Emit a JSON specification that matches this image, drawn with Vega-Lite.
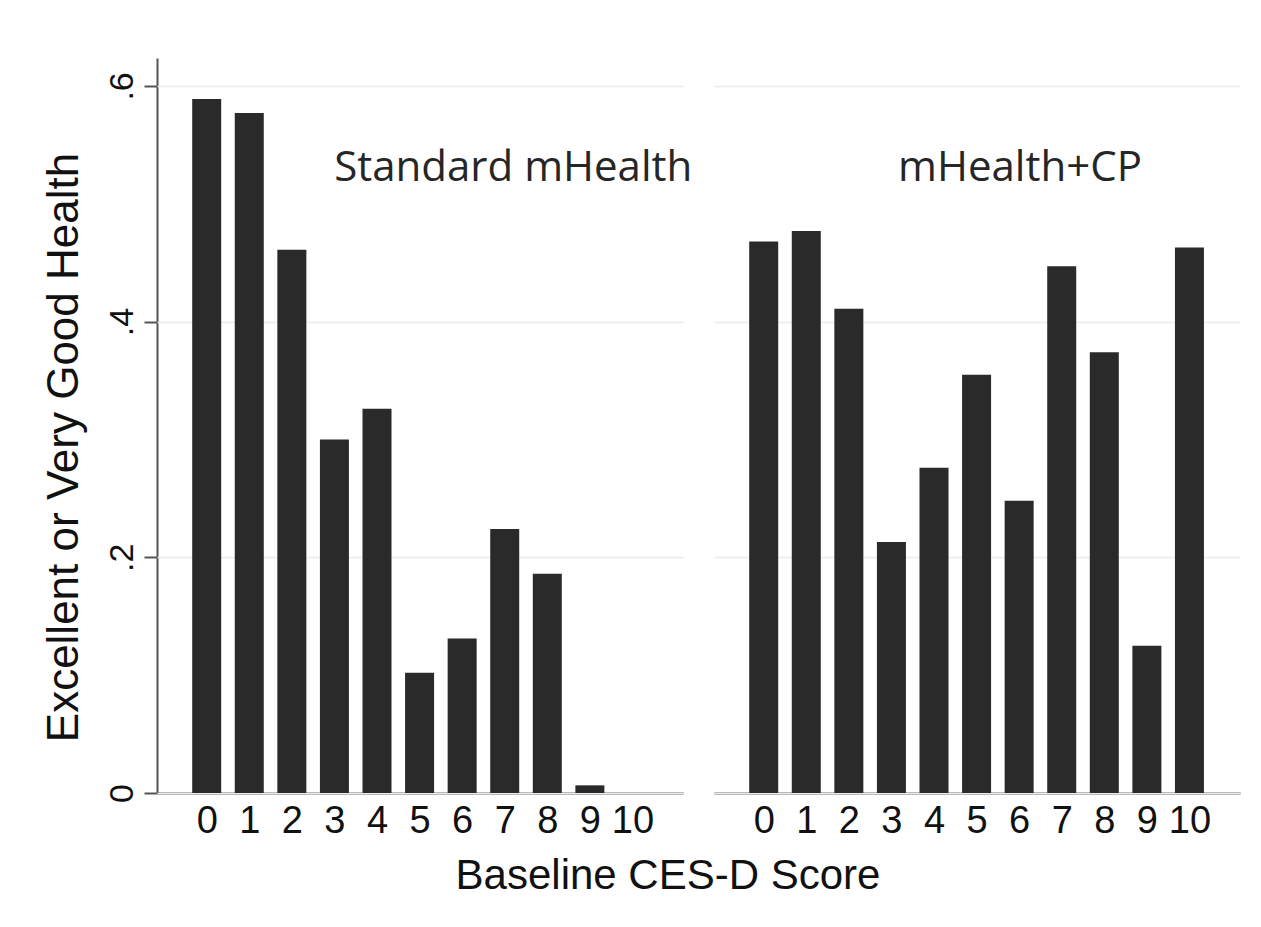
{
  "$schema": "https://vega.github.io/schema/vega-lite/v6.json",
  "autosize": {"type": "pad"},
  "padding": {"left": 42, "top": 58, "right": 5, "bottom": 5},
  "background": "white",
  "data": {
    "values": [
      {"panel": "Standard mHealth", "score": 0, "share": 0.589},
      {"panel": "Standard mHealth", "score": 1, "share": 0.577},
      {"panel": "Standard mHealth", "score": 2, "share": 0.461},
      {"panel": "Standard mHealth", "score": 3, "share": 0.300},
      {"panel": "Standard mHealth", "score": 4, "share": 0.326},
      {"panel": "Standard mHealth", "score": 5, "share": 0.102},
      {"panel": "Standard mHealth", "score": 6, "share": 0.131},
      {"panel": "Standard mHealth", "score": 7, "share": 0.224},
      {"panel": "Standard mHealth", "score": 8, "share": 0.186},
      {"panel": "Standard mHealth", "score": 9, "share": 0.0065},
      {"panel": "Standard mHealth", "score": 10, "share": 0},
      {"panel": "mHealth+CP", "score": 0, "share": 0.468},
      {"panel": "mHealth+CP", "score": 1, "share": 0.477},
      {"panel": "mHealth+CP", "score": 2, "share": 0.411},
      {"panel": "mHealth+CP", "score": 3, "share": 0.213},
      {"panel": "mHealth+CP", "score": 4, "share": 0.276},
      {"panel": "mHealth+CP", "score": 5, "share": 0.355},
      {"panel": "mHealth+CP", "score": 6, "share": 0.248},
      {"panel": "mHealth+CP", "score": 7, "share": 0.447},
      {"panel": "mHealth+CP", "score": 8, "share": 0.374},
      {"panel": "mHealth+CP", "score": 9, "share": 0.125},
      {"panel": "mHealth+CP", "score": 10, "share": 0.463}
    ]
  },
  "facet": {
    "column": {
      "field": "panel",
      "type": "nominal",
      "title": null,
      "sort": ["Standard mHealth", "mHealth+CP"],
      "header": {"labels": false}
    }
  },
  "spacing": 21,
  "title": {
    "text": "Baseline CES-D Score",
    "orient": "bottom",
    "anchor": "middle",
    "frame": "bounds",
    "font": "Liberation Sans",
    "fontSize": 42,
    "fontWeight": "normal",
    "color": "#111111",
    "offset": 16,
    "dx": 27
  },
  "spec": {
    "width": 526,
    "height": 735,
    "layer": [
      {
        "mark": {"type": "bar", "width": 29, "color": "#2a2a2a"},
        "encoding": {
          "x": {
            "field": "score",
            "type": "quantitative",
            "scale": {"domain": [-1.05, 11.07], "nice": false, "zero": false},
            "axis": {
              "title": null,
              "values": [0, 1, 2, 3, 4, 5, 6, 7, 8, 9, 10],
              "ticks": false,
              "tickSize": 0,
              "grid": false,
              "labelFlush": false,
              "labelOverlap": false,
              "labelPadding": 9,
              "labelFontSize": 38,
              "labelFont": "Liberation Sans",
              "labelColor": "#111111",
              "domainColor": "#555555",
              "domainWidth": 2
            }
          },
          "y": {
            "field": "share",
            "type": "quantitative",
            "scale": {"domain": [0, 0.6237], "nice": false},
            "axis": {
              "title": "Excellent or Very Good Health",
              "values": [0, 0.2, 0.4, 0.6],
              "labelExpr": "datum.value == 0 ? '0' : replace(format(datum.value, '.1f'), '0.', '.')",
              "labelAngle": -90,
              "labelAlign": "center",
              "labelBaseline": "alphabetic",
              "labelPadding": 12,
              "labelFontSize": 34,
              "labelFont": "Liberation Sans",
              "labelColor": "#111111",
              "tickSize": 13,
              "tickWidth": 2,
              "tickColor": "#555555",
              "domainColor": "#555555",
              "domainWidth": 2,
              "grid": true,
              "gridColor": "#e8eeef",
              "gridWidth": 1.5,
              "titleFont": "Liberation Sans",
              "titleFontSize": 44,
              "titleFontWeight": "normal",
              "titleColor": "#111111",
              "titleAngle": -90,
              "titleAlign": "center",
              "titleBaseline": "alphabetic",
              "titleX": -80,
              "titleY": 389
            }
          }
        }
      },
      {
        "transform": [{"filter": "datum.score == 0 && datum.panel == 'Standard mHealth'"}],
        "mark": {"type": "text", "font": "Open Sans", "fontSize": 42, "color": "#262626", "align": "center", "baseline": "alphabetic"},
        "encoding": {
          "x": {"datum": 7.2, "type": "quantitative"},
          "y": {"datum": 0.5195, "type": "quantitative"},
          "text": {"field": "panel"}
        }
      },
      {
        "transform": [{"filter": "datum.score == 0 && datum.panel == 'mHealth+CP'"}],
        "mark": {"type": "text", "font": "Open Sans", "fontSize": 42, "color": "#262626", "align": "center", "baseline": "alphabetic"},
        "encoding": {
          "x": {"datum": 6.02, "type": "quantitative"},
          "y": {"datum": 0.5195, "type": "quantitative"},
          "text": {"field": "panel"}
        }
      }
    ]
  },
  "config": {
    "view": {"stroke": null}
  }
}
